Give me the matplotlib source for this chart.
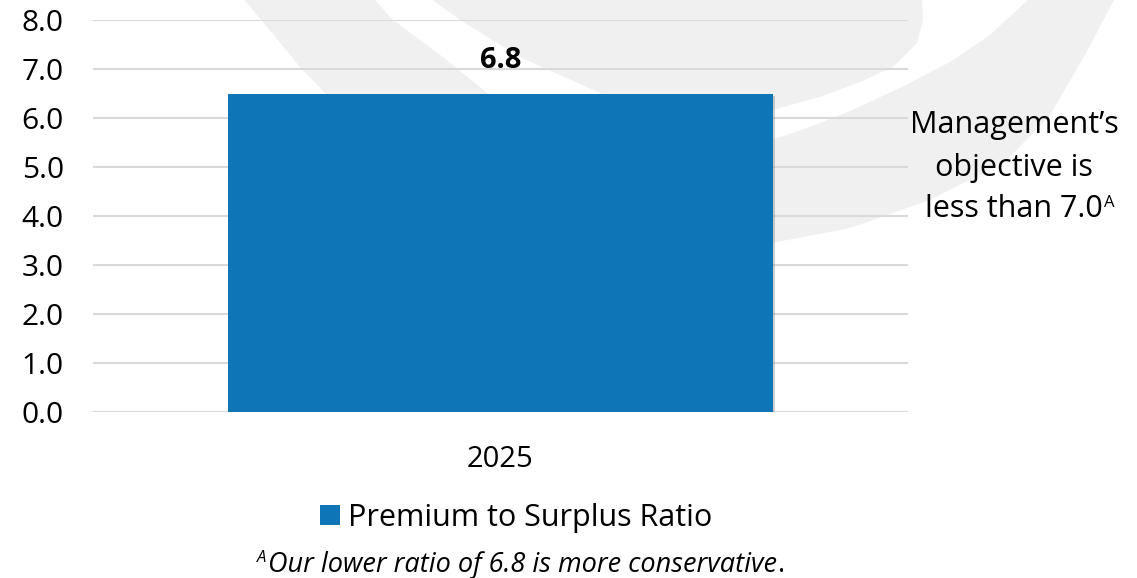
import matplotlib
matplotlib.use('Agg')
import matplotlib.pyplot as plt
from matplotlib.patches import Polygon
import matplotlib.patheffects as pe

# data
years = ['2025']
ratio = [6.5]
bar_labels = ['6.8']
series_name = 'Premium to Surplus Ratio'
yticks = [0, 1, 2, 3, 4, 5, 6, 7, 8]
note_lines = ['Management\u2019s', 'objective is', 'less than 7.0']
footnote = 'Our lower ratio of 6.8 is more conservative'

W, H = 1137, 578
BLUE = '#0e75b7'
plt.rcParams['font.family'] = ['Open Sans', 'DejaVu Sans']

fig = plt.figure(figsize=(W / 100, H / 100), dpi=100)


def px(x, y):
    # pixel position (from top-left) -> figure fraction
    return (x / W, 1 - y / H)


# faint logo watermark behind the chart
band_a = [(243, -2), (373, -2), (393, 20), (443, 57), (487, 93), (540, 140),
          (360, 140), (325, 93), (300, 67)]
blob_b = [(430, -2), (922, -2), (923, 20), (917, 43), (893, 67), (860, 82),
          (820, 97), (772, 110), (700, 135), (640, 130), (600, 93), (520, 57),
          (460, 20)]
band_d = [(1030, -2), (990, 35), (950, 62), (900, 88), (850, 111), (810, 127),
          (772, 140), (740, 150), (740, 250), (772, 243), (850, 228),
          (930, 200), (1005, 162), (1050, 115), (1085, 55), (1115, -2)]
for pts in (band_a, blob_b, band_d):
    fig.add_artist(Polygon([px(x, y) for x, y in pts], closed=True,
                           transform=fig.transFigure, facecolor='#f0f0f0',
                           edgecolor='none', zorder=-1))

ax = fig.add_axes([93 / W, 1 - 412 / H, 815 / W, 392 / H])
ax.set_facecolor('none')
bars = ax.bar(years, ratio, width=0.6675, color=BLUE, zorder=3)
ax.set_xlim(-0.5, 0.5)
ax.set_ylim(0, 8)
ax.set_yticks(yticks)
ax.set_yticklabels([f'{v:.1f}' for v in yticks])
ax.yaxis.grid(True, color='#d9d9d9', linewidth=1.5)
ax.set_axisbelow(True)
for s in ax.spines.values():
    s.set_visible(False)
ax.tick_params(axis='y', length=0, pad=21, labelsize=21.5)
ax.tick_params(axis='x', length=0, pad=24, labelsize=21)

ax.bar_label(bars, labels=bar_labels, padding=13, fontsize=21, fontweight='bold')

leg = fig.legend(handles=[bars], labels=[series_name], loc='center',
                 bbox_to_anchor=px(516, 518), frameon=False, fontsize=22,
                 handlelength=0.65, handleheight=0.65, handletextpad=0.25)

# soft shadow on the bar only (after the legend copied its style)
for b in bars:
    b.set_path_effects([pe.SimplePatchShadow(offset=(2, -2), shadow_rgbFace='#666666', alpha=0.3),
                        pe.Normal()])

# side note
baselines = [133, 176, 217]
note_texts = []
for line, yb in zip(note_lines, baselines):
    note_texts.append(fig.text(*px(1014, yb), line, ha='center', va='baseline', fontsize=22))

# footnote
foot = fig.text(*px(522, 572), footnote, ha='center', va='baseline',
                fontsize=19.5, style='italic')

fig.canvas.draw()
r = fig.canvas.get_renderer()
inv = fig.transFigure.inverted()

bb = note_texts[-1].get_window_extent(r)
x0, y0 = inv.transform((bb.x1 + 1, 0))
fig.text(x0, px(0, baselines[-1] - 10)[1], 'A', ha='left', va='baseline', fontsize=12)

bb = foot.get_window_extent(r)
xl, _ = inv.transform((bb.x0 - 1, 0))
xr, _ = inv.transform((bb.x1 + 1, 0))
fig.text(xl, px(0, 572 - 10)[1], 'A', ha='right', va='baseline', fontsize=12, style='italic')
fig.text(xr, px(0, 572)[1], '.', ha='left', va='baseline', fontsize=19.5)

fig.savefig('out.png', dpi=100)
